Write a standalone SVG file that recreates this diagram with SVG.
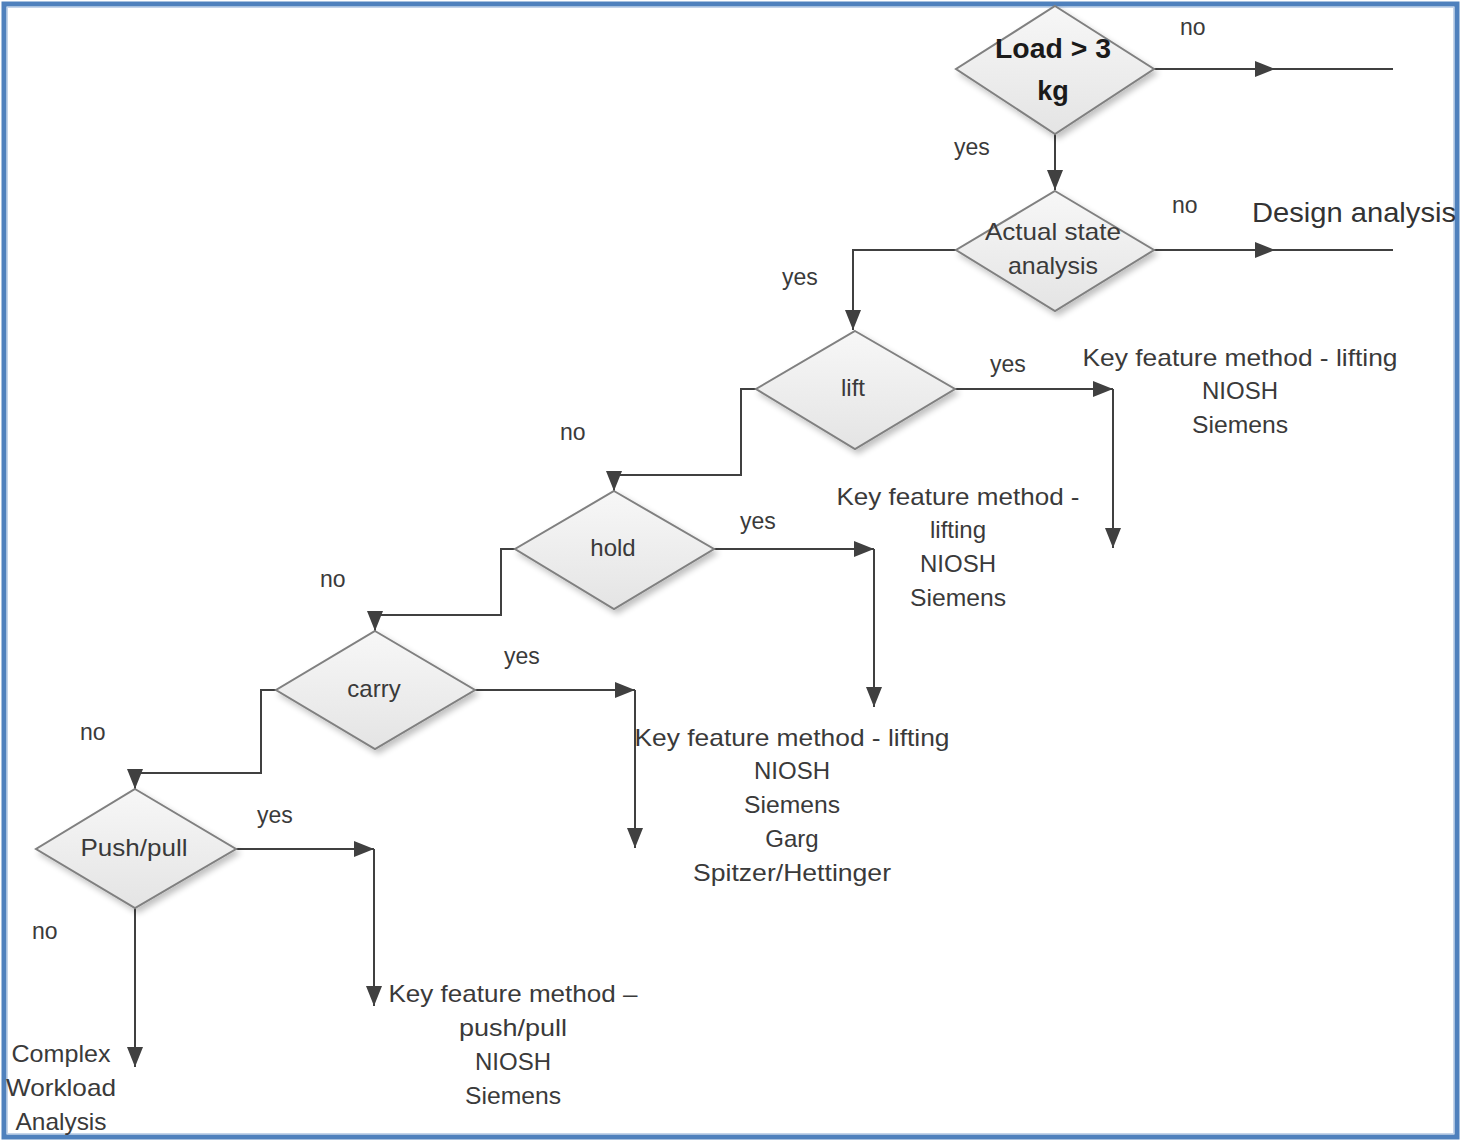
<svg xmlns="http://www.w3.org/2000/svg" width="1461" height="1141" viewBox="0 0 1461 1141">
<defs>
<linearGradient id="dg" x1="0" y1="0" x2="0" y2="1">
<stop offset="0" stop-color="#f7f7f7"/>
<stop offset="1" stop-color="#e4e4e4"/>
</linearGradient>
<filter id="sh" x="-10%" y="-10%" width="130%" height="130%">
<feGaussianBlur in="SourceAlpha" stdDeviation="3"/>
<feOffset dx="3" dy="4" result="b"/>
<feComponentTransfer><feFuncA type="linear" slope="0.25"/></feComponentTransfer>
<feMerge><feMergeNode/><feMergeNode in="SourceGraphic"/></feMerge>
</filter>
<marker id="ah" viewBox="0 0 20 16" refX="20" refY="8" markerWidth="20" markerHeight="16" markerUnits="userSpaceOnUse" orient="auto">
<path d="M0,0 L20,8 L0,16 Z" fill="#404040"/>
</marker>
<style>
.d{fill:url(#dg);stroke:#808080;stroke-width:2;filter:url(#sh)}
.c{fill:none;stroke:#404040;stroke-width:2}
.t{font-family:"Liberation Sans",Arial,sans-serif;font-size:24px;fill:#3a3a3a;text-anchor:middle}
.l{font-family:"Liberation Sans",Arial,sans-serif;font-size:23px;fill:#3a3a3a}
</style>
</defs>
<rect x="0" y="0" width="1461" height="1141" fill="#ffffff"/>
<rect x="4" y="4" width="1453" height="1133" fill="none" stroke="#4f81bd" stroke-width="5"/>
<rect x="7.5" y="7.5" width="1446" height="1126" fill="none" stroke="#c5d5ea" stroke-width="1"/>

<g id="connectors">
<path class="c" d="M1154,69 H1275" marker-end="url(#ah)"/>
<path class="c" d="M1275,69 H1393"/>
<path class="c" d="M1055,134 V190" marker-end="url(#ah)"/>
<path class="c" d="M1154,250 H1275" marker-end="url(#ah)"/>
<path class="c" d="M1275,250 H1393"/>
<path class="c" d="M956,250 H853 V330" marker-end="url(#ah)"/>
<path class="c" d="M955,389 H1113" marker-end="url(#ah)"/>
<path class="c" d="M1113,389 V548" marker-end="url(#ah)"/>
<path class="c" d="M756,389 H741 V475 H614 V491" marker-end="url(#ah)"/>
<path class="c" d="M714,549 H874" marker-end="url(#ah)"/>
<path class="c" d="M874,549 V707" marker-end="url(#ah)"/>
<path class="c" d="M515,549 H501 V615 H375 V631" marker-end="url(#ah)"/>
<path class="c" d="M475,690 H635" marker-end="url(#ah)"/>
<path class="c" d="M635,690 V848" marker-end="url(#ah)"/>
<path class="c" d="M276,690 H261 V773 H135 V789" marker-end="url(#ah)"/>
<path class="c" d="M236,849 H374" marker-end="url(#ah)"/>
<path class="c" d="M374,849 V1006" marker-end="url(#ah)"/>
<path class="c" d="M135,908 V1067" marker-end="url(#ah)"/>
</g>

<g id="load">
<polygon class="d" points="1055,6 1154,69 1055,134 956,69"/>
<text x="1053" y="58" textLength="116" lengthAdjust="spacingAndGlyphs" style="font-family:'Liberation Sans',Arial,sans-serif;font-size:27px;font-weight:bold;fill:#1a1a1a;text-anchor:middle">Load &gt; 3</text>
<text x="1053" y="100" style="font-family:'Liberation Sans',Arial,sans-serif;font-size:27px;font-weight:bold;fill:#1a1a1a;text-anchor:middle">kg</text>
</g>
<g id="actual">
<polygon class="d" points="1055,191 1154,250 1055,311 956,250"/>
<text class="t" x="1053" y="240" textLength="136" lengthAdjust="spacingAndGlyphs">Actual state</text>
<text class="t" x="1053" y="274" textLength="90" lengthAdjust="spacingAndGlyphs">analysis</text>
</g>
<g id="lift">
<polygon class="d" points="855,331 955,389 855,449 756,389"/>
<text class="t" x="853" y="396">lift</text>
</g>
<g id="hold">
<polygon class="d" points="614,491 714,549 614,609 515,549"/>
<text class="t" x="613" y="556">hold</text>
</g>
<g id="carry">
<polygon class="d" points="375,631 475,690 375,749 276,690"/>
<text class="t" x="374" y="697">carry</text>
</g>
<g id="pushpull">
<polygon class="d" points="135,789 236,849 135,908 36,849"/>
<text class="t" x="134" y="856" textLength="107" lengthAdjust="spacingAndGlyphs">Push/pull</text>
</g>

<g id="labels">
<text class="l" x="1180" y="35">no</text>
<text class="l" x="954" y="155">yes</text>
<text class="l" x="1172" y="213">no</text>
<text x="1252" y="222" textLength="204" lengthAdjust="spacingAndGlyphs" style="font-family:'Liberation Sans',Arial,sans-serif;font-size:28px;fill:#333">Design analysis</text>
<text class="l" x="782" y="285">yes</text>
<text class="l" x="990" y="372">yes</text>
<text class="l" x="560" y="440">no</text>
<text class="l" x="740" y="529">yes</text>
<text class="l" x="320" y="587">no</text>
<text class="l" x="504" y="664">yes</text>
<text class="l" x="80" y="740">no</text>
<text class="l" x="257" y="823">yes</text>
<text class="l" x="32" y="939">no</text>
</g>

<g id="out-lift">
<text class="t" x="1240" y="366" textLength="315" lengthAdjust="spacingAndGlyphs">Key feature method - lifting</text>
<text class="t" x="1240" y="399">NIOSH</text>
<text class="t" x="1240" y="433" textLength="96" lengthAdjust="spacingAndGlyphs">Siemens</text>
</g>
<g id="out-hold">
<text class="t" x="958" y="505" textLength="243" lengthAdjust="spacingAndGlyphs">Key feature method -</text>
<text class="t" x="958" y="538">lifting</text>
<text class="t" x="958" y="572">NIOSH</text>
<text class="t" x="958" y="606" textLength="96" lengthAdjust="spacingAndGlyphs">Siemens</text>
</g>
<g id="out-carry">
<text class="t" x="792" y="746" textLength="315" lengthAdjust="spacingAndGlyphs">Key feature method - lifting</text>
<text class="t" x="792" y="779">NIOSH</text>
<text class="t" x="792" y="813" textLength="96" lengthAdjust="spacingAndGlyphs">Siemens</text>
<text class="t" x="792" y="847">Garg</text>
<text class="t" x="792" y="881" textLength="198" lengthAdjust="spacingAndGlyphs">Spitzer/Hettinger</text>
</g>
<g id="out-push">
<text class="t" x="513" y="1002" textLength="249" lengthAdjust="spacingAndGlyphs">Key feature method –</text>
<text class="t" x="513" y="1036" textLength="108" lengthAdjust="spacingAndGlyphs">push/pull</text>
<text class="t" x="513" y="1070">NIOSH</text>
<text class="t" x="513" y="1104" textLength="96" lengthAdjust="spacingAndGlyphs">Siemens</text>
</g>
<g id="out-complex">
<text class="t" x="61" y="1062" textLength="99" lengthAdjust="spacingAndGlyphs">Complex</text>
<text class="t" x="61" y="1096" textLength="110" lengthAdjust="spacingAndGlyphs">Workload</text>
<text class="t" x="61" y="1130" textLength="91" lengthAdjust="spacingAndGlyphs">Analysis</text>
</g>
</svg>
